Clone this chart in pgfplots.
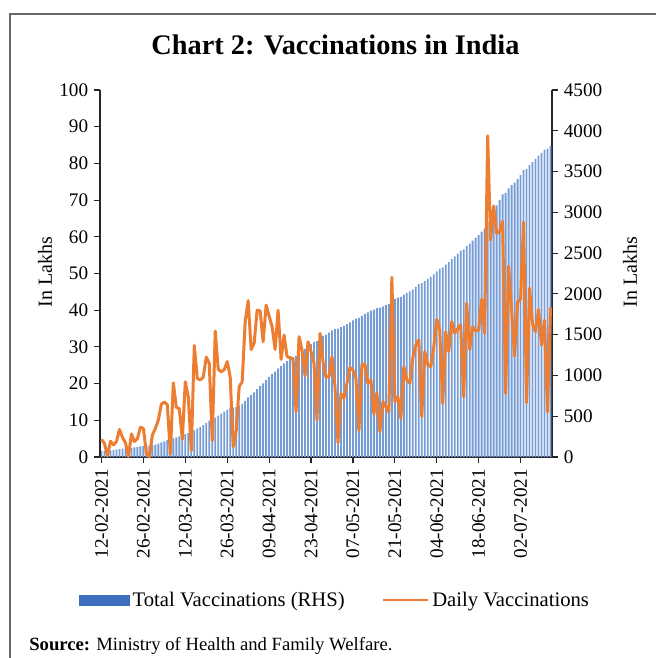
\documentclass[border=0pt]{standalone}
\usepackage{fontspec}
\setmainfont{Liberation Serif}
\usepackage{pgfplots}
\usepackage{pgfplotstable}
\pgfplotsset{compat=1.18}

\definecolor{barblue}{RGB}{62,110,190}
\definecolor{barlight}{RGB}{118,156,214}
\definecolor{lineorange}{RGB}{237,125,49}
\definecolor{framegray}{RGB}{105,105,105}

% day (0 = 12-02-2021), daily vaccinations (lakh), total vaccinations (lakh)
\pgfplotstableread{
day daily total
0 4.8 74
1 3.7 78
2 0.3 78
3 4.3 82
4 3.3 86
5 4.2 90
6 7.5 97
7 5.4 103
8 3.9 107
9 0.1 107
10 6.3 113
11 4.2 117
12 5.0 122
13 8.1 130
14 7.8 138
15 1.0 139
16 0.1 139
17 6.0 145
18 7.8 153
19 10.1 163
20 14.4 178
21 15.0 193
22 14.2 207
23 0.8 208
24 20.2 228
25 13.5 241
26 13.2 254
27 4.8 259
28 20.5 280
29 16.4 296
30 1.7 298
31 30.4 328
32 21.4 350
33 21.0 371
34 21.8 392
35 27.2 420
36 25.5 445
37 4.5 450
38 34.3 484
39 23.9 508
40 23.2 531
41 23.8 555
42 26.0 581
43 21.8 603
44 2.8 605
45 7.2 613
46 19.2 632
47 20.5 652
48 36.9 689
49 42.6 732
50 29.3 761
51 31.0 792
52 40.0 832
53 39.8 872
54 31.4 903
55 41.4 945
56 38.4 983
57 35.5 1019
58 29.3 1048
59 40.0 1088
60 26.6 1115
61 33.2 1148
62 27.3 1175
63 27.1 1202
64 26.7 1229
65 12.3 1241
66 32.8 1274
67 29.2 1303
68 22.1 1325
69 31.4 1357
70 28.7 1385
71 25.5 1411
72 10.1 1421
73 33.7 1455
74 26.0 1481
75 21.7 1502
76 21.9 1524
77 27.3 1552
78 19.2 1571
79 3.9 1575
80 17.3 1592
81 16.0 1608
82 20.1 1628
83 24.4 1652
84 23.7 1676
85 21.4 1698
86 7.2 1705
87 25.3 1730
88 25.3 1755
89 20.1 1775
90 21.0 1796
91 11.7 1808
92 17.5 1826
93 6.9 1833
94 15.1 1848
95 13.7 1861
96 12.3 1874
97 49.0 1923
98 15.1 1938
99 16.4 1954
100 10.5 1965
101 24.6 1989
102 21.0 2010
103 20.1 2030
104 27.0 2057
105 30.5 2088
106 31.9 2120
107 11.0 2131
108 28.7 2159
109 25.1 2185
110 24.6 2209
111 30.0 2239
112 37.5 2277
113 34.6 2311
114 14.6 2326
115 34.1 2360
116 28.7 2389
117 36.9 2426
118 33.7 2459
119 35.0 2494
120 36.0 2530
121 16.4 2547
122 41.9 2589
123 29.3 2618
124 35.5 2653
125 34.4 2688
126 34.6 2722
127 43.0 2765
128 33.7 2799
129 87.5 2887
130 59.1 2950
131 68.4 3020
132 61.0 3085
133 61.4 3150
134 64.2 3220
135 17.3 3240
136 52.0 3293
137 40.0 3335
138 27.5 3365
139 42.2 3410
140 43.0 3455
141 64.0 3517
142 14.8 3532
143 46.0 3580
144 36.2 3619
145 34.1 3655
146 40.2 3695
147 30.5 3728
148 37.3 3768
149 12.3 3782
150 40.8 3815
}\vacc

\pgfplotsset{
  chartbase/.style={
    at={(60pt,-274.2pt)}, anchor=south west,
    scale only axis, width=271.2pt, height=220.2pt,
    xmin=-0.5, xmax=150.5,
    tick align=outside, major tick length=3.6pt,
    every tick/.style={black!85, line width=0.7pt},
    axis line style={black!85, line width=0.7pt},
    ticklabel style={font=\fontsize{11.5}{13}\selectfont},
    /pgf/number format/assume math mode=true,
    /pgf/number format/1000 sep={},
  }
}

\begin{document}
\begin{tikzpicture}
\useasboundingbox (0pt,0pt) rectangle (393.6pt,-394.8pt);
\draw[framegray, line width=0.9pt] (6pt,-394.8pt) -- (6pt,-8.4pt) -- (393.6pt,-8.4pt);
\node[anchor=base, font=\fontsize{17}{20}\selectfont\bfseries] at (201.3pt,-32.4pt) {Chart 2: Vaccinations in India};
\node[rotate=90, font=\fontsize{12}{14}\selectfont] at (27pt,-163.2pt) {In Lakhs};
\node[rotate=90, font=\fontsize{12}{14}\selectfont] at (378pt,-163.2pt) {In Lakhs};
\node[anchor=base west, inner sep=0pt, font=\fontsize{11.2}{13}\selectfont] at (17.4pt,-390pt) {\textbf{Source:} Ministry of Health and Family Welfare.};

% total vaccinations, right axis
\begin{axis}[chartbase,
  ymin=0, ymax=4500, ytick={0,500,...,4500},
  axis y line*=right, axis x line*=bottom,
  xtick={0,14,...,140},
  xticklabels={12-02-2021,26-02-2021,12-03-2021,26-03-2021,09-04-2021,23-04-2021,07-05-2021,21-05-2021,04-06-2021,18-06-2021,02-07-2021},
  xticklabel style={rotate=90, anchor=east},
]
\addplot[ybar, bar width=0.62, fill=barlight, draw=none] table[x=day, y=total]{\vacc};
\end{axis}

% daily vaccinations, left axis
\begin{axis}[chartbase,
  ymin=0, ymax=100, ytick={0,10,...,100},
  axis y line*=left, axis x line=none,
  legend style={at={(0.521,-0.39)}, anchor=center, draw=none, fill=none,
    legend columns=2, font=\fontsize{12.4}{14}\selectfont,
    /tikz/every even column/.append style={column sep=20pt}},
]
\addlegendimage{legend image code/.code={\fill[barblue] (0pt,-3pt) rectangle (30pt,3pt);}}
\addlegendentry{Total Vaccinations (RHS)}
\addplot[lineorange, line width=1.8pt, line join=round,
  legend image code/.code={\draw[lineorange, line width=1.5pt] (0pt,0pt) -- (27pt,0pt);}]
  table[x=day, y=daily]{\vacc};
\addlegendentry{Daily Vaccinations}
\end{axis}
\end{tikzpicture}
\end{document}
